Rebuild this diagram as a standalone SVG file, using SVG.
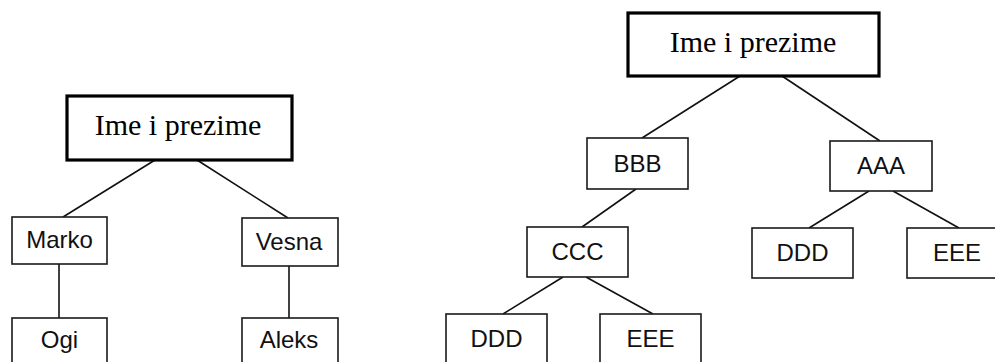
<svg xmlns="http://www.w3.org/2000/svg" width="995" height="362" viewBox="0 0 995 362">
<style>
.box{fill:#fff;stroke:#1a1a1a;stroke-width:1.6}
.root{fill:#fff;stroke:#000;stroke-width:3.2}
.t{font-family:"Liberation Sans",Arial,sans-serif;font-size:24px;fill:#111;text-anchor:middle}
.rt{font-family:"Liberation Serif","Times New Roman",serif;font-size:30px;fill:#000;text-anchor:middle}
.c{stroke:#111;stroke-width:1.6;fill:none}
</style>
<rect width="995" height="362" fill="#fff"/>
<g id="connectors">
<line class="c" x1="155" y1="160" x2="63" y2="217"/>
<line class="c" x1="197" y1="160" x2="288" y2="218"/>
<line class="c" x1="59" y1="264" x2="59" y2="318"/>
<line class="c" x1="289" y1="266" x2="289" y2="318"/>
<line class="c" x1="740" y1="76" x2="642" y2="138"/>
<line class="c" x1="782" y1="76" x2="880" y2="141"/>
<line class="c" x1="636" y1="189" x2="582" y2="227"/>
<line class="c" x1="563" y1="277" x2="503" y2="314"/>
<line class="c" x1="586" y1="277" x2="653" y2="314"/>
<line class="c" x1="869" y1="191" x2="809" y2="228"/>
<line class="c" x1="893" y1="191" x2="959" y2="228"/>
</g>
<g id="l-root"><rect class="root" x="67" y="96" width="225" height="64"/><text class="rt" x="178" y="135">Ime i prezime</text></g>
<g id="l-marko"><rect class="box" x="12" y="217" width="95" height="47"/><text class="t" x="59.5" y="248">Marko</text></g>
<g id="l-vesna"><rect class="box" x="242" y="218" width="96" height="48"/><text class="t" x="289" y="250">Vesna</text></g>
<g id="l-ogi"><rect class="box" x="12" y="318" width="95" height="60"/><text class="t" x="59.5" y="348">Ogi</text></g>
<g id="l-aleks"><rect class="box" x="242" y="318" width="96" height="60"/><text class="t" x="289" y="348">Aleks</text></g>
<g id="r-root"><rect class="root" x="628" y="13" width="251" height="63"/><text class="rt" x="753" y="52">Ime i prezime</text></g>
<g id="r-bbb"><rect class="box" x="587" y="138" width="101" height="51"/><text class="t" x="637.5" y="172">BBB</text></g>
<g id="r-aaa"><rect class="box" x="830" y="141" width="102" height="50"/><text class="t" x="881" y="174">AAA</text></g>
<g id="r-ccc"><rect class="box" x="527" y="227" width="101" height="50"/><text class="t" x="577.5" y="260">CCC</text></g>
<g id="r-ddd1"><rect class="box" x="752" y="228" width="101" height="50"/><text class="t" x="802.5" y="261">DDD</text></g>
<g id="r-eee1"><rect class="box" x="907" y="228" width="100" height="50"/><text class="t" x="957" y="261">EEE</text></g>
<g id="r-ddd2"><rect class="box" x="446" y="314" width="101" height="60"/><text class="t" x="496.5" y="347">DDD</text></g>
<g id="r-eee2"><rect class="box" x="600" y="314" width="101" height="60"/><text class="t" x="650.5" y="347">EEE</text></g>
</svg>
